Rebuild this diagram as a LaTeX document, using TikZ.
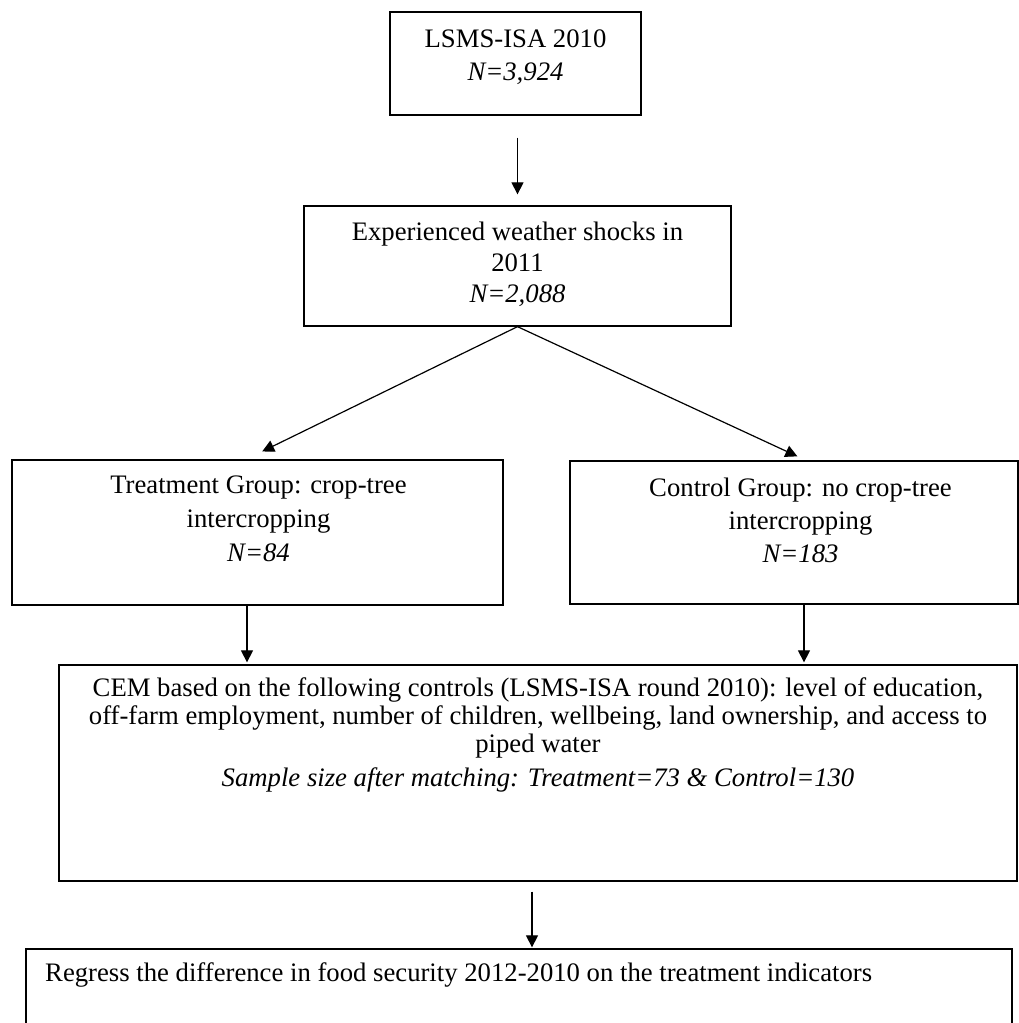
\documentclass[tikz,border=0pt]{standalone}
\usepackage{fontspec}
\setmainfont{Liberation Serif}
\usetikzlibrary{arrows.meta}
\begin{document}
\begin{tikzpicture}[x=1pt,y=-1pt,
  box/.style={draw, line width=1.3pt, rectangle, inner sep=0pt},
  txt/.style={align=center, inner sep=0pt},
  arr/.style={-{Triangle[width=12pt,length=12pt]}, line width=1.2pt}
]
\useasboundingbox (0,0) rectangle (1019,1023);
\clip (0,0) rectangle (1019,1023);
\fill[white] (0,0) rectangle (1019,1023);
\fontsize{26.7}{32}\selectfont

\node[box, minimum width=251pt, minimum height=103pt] (b1) at (515.5,63.5) {};
\node[txt, font=\fontsize{26.7}{33}\selectfont] (t1) at (515.5,57) {LSMS-ISA 2010\\\textit{N=3,924}};

\node[box, minimum width=427pt, minimum height=120pt] (b2) at (517.5,266) {};
\node[txt, font=\fontsize{26.7}{31}\selectfont] (t2) at (517.5,264) {Experienced weather shocks in\\2011\\\textit{N=2,088}};

\node[box, minimum width=491pt, minimum height=145pt] (b3) at (257.5,532.5) {};
\node[txt, font=\fontsize{26.7}{34}\selectfont] (t3) at (258.5,519) {Treatment Group: crop-tree\\intercropping\\\textit{N=84}};

\node[box, minimum width=448pt, minimum height=143pt] (b4) at (794,532.5) {};
\node[txt, font=\fontsize{26.7}{33}\selectfont] (t4) at (800.5,520) {Control Group: no crop-tree\\intercropping\\\textit{N=183}};

\node[box, minimum width=958pt, minimum height=216pt] (b5) at (538,773) {};
\node[txt, font=\fontsize{26.7}{28}\selectfont] (t5) at (538,718) {CEM based on the following controls (LSMS-ISA round 2010): level of education,\\off-farm employment, number of children, wellbeing, land ownership, and access to\\piped water};
\node[txt, font=\fontsize{26.7}{28}\selectfont\itshape] (t5b) at (538,780) {Sample size after matching: Treatment=73 \& Control=130};

\node[box, minimum width=986pt, minimum height=91pt] (b6) at (519,994.5) {};
\node[txt, anchor=west, font=\fontsize{26.7}{28}\selectfont] (t6) at (45,975) {Regress the difference in food security 2012-2010 on the treatment indicators};

\draw[arr, shorten <=22pt, shorten >=11pt] (b1.south -| b2.north) -- (b2.north);
\draw[arr, shorten >=18pt] (b2.south) -- ([xshift=-11.5pt]b3.north);
\draw[arr, shorten >=9.5pt] (b2.south) -- ([xshift=12pt]b4.north);
\draw[arr, shorten >=2pt] ([xshift=-10.5pt]b3.south) -- ([xshift=-10.5pt]b3.south |- b5.north);
\draw[arr, shorten >=2pt] ([xshift=10pt]b4.south) -- ([xshift=10pt]b4.south |- b5.north);
\draw[arr, shorten <=10pt, shorten >=1pt] ([xshift=-6pt]b5.south) -- ([xshift=-6pt]b5.south |- b6.north);
\end{tikzpicture}
\end{document}
